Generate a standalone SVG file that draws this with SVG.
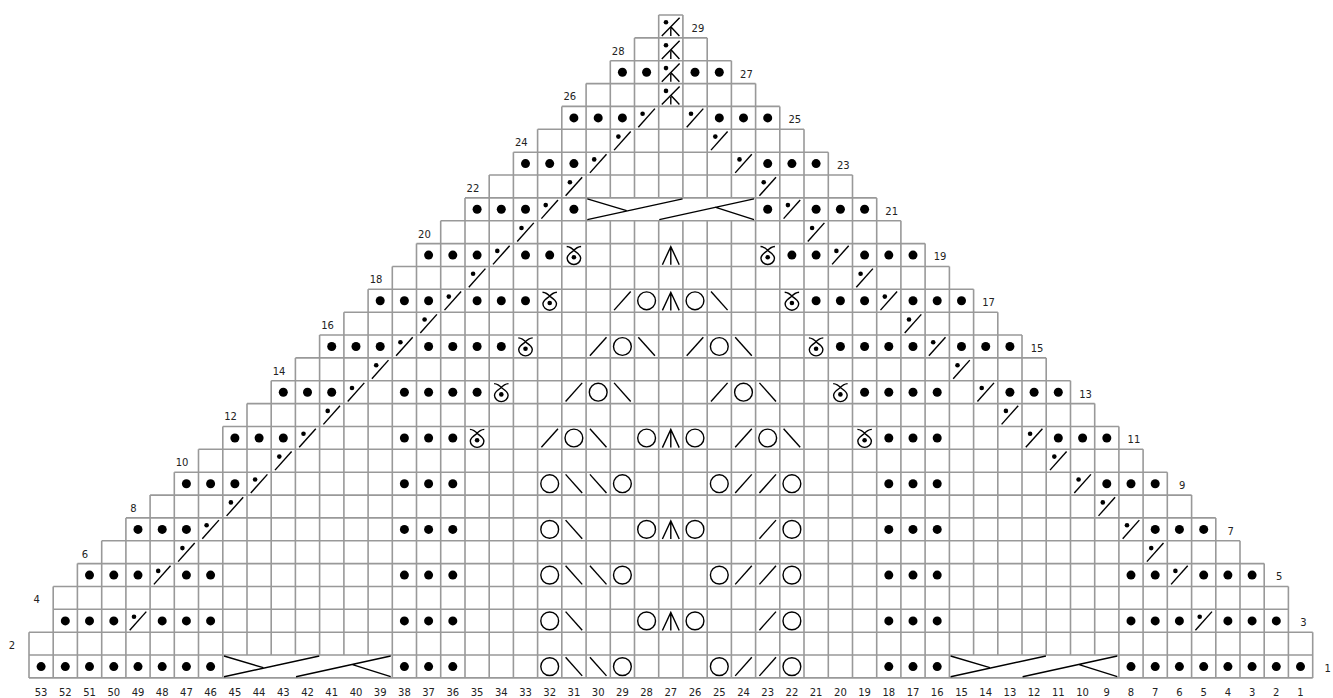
<svg xmlns="http://www.w3.org/2000/svg" width="1333" height="698" viewBox="0 0 1333 698">
<style>
.g{fill:none;stroke:#999;stroke-width:1.6}
.k{fill:none;stroke:#000;stroke-width:1.4}
.f{fill:#000}
text{font-family:"DejaVu Sans","Liberation Sans",sans-serif;font-size:10px;fill:#222;text-anchor:middle}
</style>
<defs>
<circle id="d" class="f" r="4.5"/>
<path id="s" class="k" d="M-8.3,9.3L8.3,-9.3"/>
<path id="b" class="k" d="M-8.3,-9.3L8.3,9.3"/>
<circle id="o" class="k" r="8.9"/>
<g id="ds"><path class="k" d="M-8.3,9.3L8.3,-9.3"/><circle class="f" cx="-4" cy="-4.2" r="2.3"/></g>
<path id="t" class="k" d="M-8.4,9.6L0,-8.5L8.4,9.6M0,-8.5V9.6"/>
<g id="y"><path class="k" d="M-7.2,-8.6C-4,-8.4-1.5,-6.6 0.6,-4.2C4.2,-1.8 6.8,0 6.8,3C6.8,6.5 3.5,9.4 0,9.4C-3.5,9.4-6.8,6.5-6.8,3C-6.8,0-4.2,-1.8-0.6,-4.2C1.5,-6.6 4,-8.4 7.2,-8.6"/><circle class="f" cy="2.2" r="2.3"/></g>
<g id="m"><path class="k" d="M-9,9.6L8.8,-8.6M0,1.9V9.6M0,0.3L8.6,9.6"/><circle class="f" cx="-4.8" cy="-4.1" r="2.3"/></g>
<path id="c" class="k" d="M1.2,1L40.5,12.7M1.2,21.7L96.5,1M73.2,21.7L167.9,1M128.9,9.3L167.9,21.7"/>
</defs>
<g id="grid">
<path class="g" d="M658.7,15H682.9M634.5,37.9H707.2M610.3,60.7H731.4M586.1,83.6H755.6M561.8,106.4H779.8M537.6,129.3H804M513.4,152.2H828.3M489.2,175H852.5M465,197.9H876.7M440.7,220.7H900.9M416.5,243.6H925.1M392.3,266.5H949.4M368.1,289.3H973.6M343.9,312.2H997.8M319.6,335H1022M295.4,357.9H1046.2M271.2,380.8H1070.5M247,403.6H1094.7M222.8,426.5H1118.9M198.5,449.3H1143.1M174.3,472.2H1167.3M150.1,495.1H1191.6M125.9,517.9H1215.8M101.7,540.8H1240M77.4,563.6H1264.2M53.2,586.5H1288.4M53.2,609.3H1288.4M29,632.2H1312.7M29,655H1312.7M29,677.9H1312.7"/>
<path class="g" d="M29,632.2V677.9M53.2,586.5V677.9M77.4,563.6V677.9M101.7,540.8V677.9M125.9,517.9V677.9M150.1,495.1V677.9M174.3,472.2V677.9M198.5,449.3V677.9M222.8,426.5V677.9M247,403.6V655M271.2,380.8V655M295.4,357.9V655M319.6,335V655M343.9,312.2V655M368.1,289.3V655M392.3,266.5V677.9M416.5,243.6V677.9M440.7,220.7V677.9M465,197.9V677.9M489.2,175V677.9M513.4,152.2V677.9M537.6,129.3V677.9M561.8,106.4V677.9M586.1,83.6V677.9M610.3,60.7V197.9M610.3,220.7V677.9M634.5,37.9V197.9M634.5,220.7V677.9M658.7,15V197.9M658.7,220.7V677.9M682.9,15V197.9M682.9,220.7V677.9M707.2,37.9V197.9M707.2,220.7V677.9M731.4,60.7V197.9M731.4,220.7V677.9M755.6,83.6V677.9M779.8,106.4V677.9M804,129.3V677.9M828.3,152.2V677.9M852.5,175V677.9M876.7,197.9V677.9M900.9,220.7V677.9M925.1,243.6V677.9M949.4,266.5V677.9M973.6,289.3V655M997.8,312.2V655M1022,335V655M1046.2,357.9V655M1070.5,380.8V655M1094.7,403.6V655M1118.9,426.5V677.9M1143.1,449.3V677.9M1167.3,472.2V677.9M1191.6,495.1V677.9M1215.8,517.9V677.9M1240,540.8V677.9M1264.2,563.6V677.9M1288.4,586.5V677.9M1312.7,632.2V677.9"/>
</g>
<g id="symbols">
<g id="row-1" transform="translate(0,666.6)">
<use href="#d" x="41.1"/><use href="#d" x="65.3"/><use href="#d" x="89.5"/><use href="#d" x="113.8"/><use href="#d" x="138"/><use href="#d" x="162.2"/><use href="#d" x="186.4"/><use href="#d" x="210.6"/>
<use href="#c" x="222.8" y="-11.6"/>
<use href="#d" x="404.4"/><use href="#d" x="428.6"/><use href="#d" x="452.8"/>
<use href="#o" x="549.7"/><use href="#b" x="573.9"/><use href="#b" x="598.2"/><use href="#o" x="622.4"/>
<use href="#o" x="719.3"/><use href="#s" x="743.5"/><use href="#s" x="767.7"/><use href="#o" x="791.9"/>
<use href="#d" x="888.8"/><use href="#d" x="913"/><use href="#d" x="937.2"/>
<use href="#c" x="949.4" y="-11.6"/>
<use href="#d" x="1131"/><use href="#d" x="1155.2"/><use href="#d" x="1179.4"/><use href="#d" x="1203.7"/><use href="#d" x="1227.9"/><use href="#d" x="1252.1"/><use href="#d" x="1276.3"/><use href="#d" x="1300.5"/>
</g>
<g id="row-3" transform="translate(0,620.9)">
<use href="#d" x="65.3"/><use href="#d" x="89.5"/><use href="#d" x="113.8"/><use href="#ds" x="138"/><use href="#d" x="162.2"/><use href="#d" x="186.4"/><use href="#d" x="210.6"/>
<use href="#d" x="404.4"/><use href="#d" x="428.6"/><use href="#d" x="452.8"/>
<use href="#o" x="549.7"/><use href="#b" x="573.9"/><use href="#o" x="646.6"/><use href="#t" x="670.8"/><use href="#o" x="695"/><use href="#s" x="767.7"/><use href="#o" x="791.9"/>
<use href="#d" x="888.8"/><use href="#d" x="913"/><use href="#d" x="937.2"/>
<use href="#d" x="1131"/><use href="#d" x="1155.2"/><use href="#d" x="1179.4"/><use href="#ds" x="1203.7"/><use href="#d" x="1227.9"/><use href="#d" x="1252.1"/><use href="#d" x="1276.3"/>
</g>
<g id="row-5" transform="translate(0,575.1)">
<use href="#d" x="89.5"/><use href="#d" x="113.8"/><use href="#d" x="138"/><use href="#ds" x="162.2"/><use href="#d" x="186.4"/><use href="#d" x="210.6"/>
<use href="#d" x="404.4"/><use href="#d" x="428.6"/><use href="#d" x="452.8"/>
<use href="#o" x="549.7"/><use href="#b" x="573.9"/><use href="#b" x="598.2"/><use href="#o" x="622.4"/>
<use href="#o" x="719.3"/><use href="#s" x="743.5"/><use href="#s" x="767.7"/><use href="#o" x="791.9"/>
<use href="#d" x="888.8"/><use href="#d" x="913"/><use href="#d" x="937.2"/>
<use href="#d" x="1131"/><use href="#d" x="1155.2"/><use href="#ds" x="1179.4"/><use href="#d" x="1203.7"/><use href="#d" x="1227.9"/><use href="#d" x="1252.1"/>
</g>
<g id="row-6" transform="translate(0,552.3)"><use href="#ds" x="186.4"/><use href="#ds" x="1155.2"/></g>
<g id="row-7" transform="translate(0,529.4)">
<use href="#d" x="138"/><use href="#d" x="162.2"/><use href="#d" x="186.4"/><use href="#ds" x="210.6"/>
<use href="#d" x="404.4"/><use href="#d" x="428.6"/><use href="#d" x="452.8"/>
<use href="#o" x="549.7"/><use href="#b" x="573.9"/><use href="#o" x="646.6"/><use href="#t" x="670.8"/><use href="#o" x="695"/><use href="#s" x="767.7"/><use href="#o" x="791.9"/>
<use href="#d" x="888.8"/><use href="#d" x="913"/><use href="#d" x="937.2"/>
<use href="#ds" x="1131"/><use href="#d" x="1155.2"/><use href="#d" x="1179.4"/><use href="#d" x="1203.7"/>
</g>
<g id="row-8" transform="translate(0,506.6)"><use href="#ds" x="234.9"/><use href="#ds" x="1106.8"/></g>
<g id="row-9" transform="translate(0,483.7)">
<use href="#d" x="186.4"/><use href="#d" x="210.6"/><use href="#d" x="234.9"/><use href="#ds" x="259.1"/>
<use href="#d" x="404.4"/><use href="#d" x="428.6"/><use href="#d" x="452.8"/>
<use href="#o" x="549.7"/><use href="#b" x="573.9"/><use href="#b" x="598.2"/><use href="#o" x="622.4"/>
<use href="#o" x="719.3"/><use href="#s" x="743.5"/><use href="#s" x="767.7"/><use href="#o" x="791.9"/>
<use href="#d" x="888.8"/><use href="#d" x="913"/><use href="#d" x="937.2"/>
<use href="#ds" x="1082.6"/><use href="#d" x="1106.8"/><use href="#d" x="1131"/><use href="#d" x="1155.2"/>
</g>
<g id="row-10" transform="translate(0,460.8)"><use href="#ds" x="283.3"/><use href="#ds" x="1058.3"/></g>
<g id="row-11" transform="translate(0,438)">
<use href="#d" x="234.9"/><use href="#d" x="259.1"/><use href="#d" x="283.3"/><use href="#ds" x="307.5"/>
<use href="#d" x="404.4"/><use href="#d" x="428.6"/><use href="#d" x="452.8"/><use href="#y" x="477.1"/>
<use href="#s" x="549.7"/><use href="#o" x="573.9"/><use href="#b" x="598.2"/>
<use href="#o" x="646.6"/><use href="#t" x="670.8"/><use href="#o" x="695"/>
<use href="#s" x="743.5"/><use href="#o" x="767.7"/><use href="#b" x="791.9"/>
<use href="#y" x="864.6"/><use href="#d" x="888.8"/><use href="#d" x="913"/><use href="#d" x="937.2"/>
<use href="#ds" x="1034.1"/><use href="#d" x="1058.3"/><use href="#d" x="1082.6"/><use href="#d" x="1106.8"/>
</g>
<g id="row-12" transform="translate(0,415.1)"><use href="#ds" x="331.7"/><use href="#ds" x="1009.9"/></g>
<g id="row-13" transform="translate(0,392.2)">
<use href="#d" x="283.3"/><use href="#d" x="307.5"/><use href="#d" x="331.7"/><use href="#ds" x="356"/>
<use href="#d" x="404.4"/><use href="#d" x="428.6"/><use href="#d" x="452.8"/><use href="#d" x="477.1"/><use href="#y" x="501.3"/>
<use href="#s" x="573.9"/><use href="#o" x="598.2"/><use href="#b" x="622.4"/>
<use href="#s" x="719.3"/><use href="#o" x="743.5"/><use href="#b" x="767.7"/>
<use href="#y" x="840.4"/><use href="#d" x="864.6"/><use href="#d" x="888.8"/><use href="#d" x="913"/><use href="#d" x="937.2"/>
<use href="#ds" x="985.7"/><use href="#d" x="1009.9"/><use href="#d" x="1034.1"/><use href="#d" x="1058.3"/>
</g>
<g id="row-14" transform="translate(0,369.4)"><use href="#ds" x="380.2"/><use href="#ds" x="961.5"/></g>
<g id="row-15" transform="translate(0,346.5)">
<use href="#d" x="331.7"/><use href="#d" x="356"/><use href="#d" x="380.2"/><use href="#ds" x="404.4"/>
<use href="#d" x="428.6"/><use href="#d" x="452.8"/><use href="#d" x="477.1"/><use href="#d" x="501.3"/><use href="#y" x="525.5"/>
<use href="#s" x="598.2"/><use href="#o" x="622.4"/><use href="#b" x="646.6"/>
<use href="#s" x="695"/><use href="#o" x="719.3"/><use href="#b" x="743.5"/>
<use href="#y" x="816.1"/><use href="#d" x="840.4"/><use href="#d" x="864.6"/><use href="#d" x="888.8"/><use href="#d" x="913"/>
<use href="#ds" x="937.2"/><use href="#d" x="961.5"/><use href="#d" x="985.7"/><use href="#d" x="1009.9"/>
</g>
<g id="row-16" transform="translate(0,323.7)"><use href="#ds" x="428.6"/><use href="#ds" x="913"/></g>
<g id="row-17" transform="translate(0,300.8)">
<use href="#d" x="380.2"/><use href="#d" x="404.4"/><use href="#d" x="428.6"/><use href="#ds" x="452.8"/>
<use href="#d" x="477.1"/><use href="#d" x="501.3"/><use href="#d" x="525.5"/><use href="#y" x="549.7"/>
<use href="#s" x="622.4"/><use href="#o" x="646.6"/><use href="#t" x="670.8"/><use href="#o" x="695"/><use href="#b" x="719.3"/>
<use href="#y" x="791.9"/><use href="#d" x="816.1"/><use href="#d" x="840.4"/><use href="#d" x="864.6"/>
<use href="#ds" x="888.8"/><use href="#d" x="913"/><use href="#d" x="937.2"/><use href="#d" x="961.5"/>
</g>
<g id="row-18" transform="translate(0,277.9)"><use href="#ds" x="477.1"/><use href="#ds" x="864.6"/></g>
<g id="row-19" transform="translate(0,255.1)">
<use href="#d" x="428.6"/><use href="#d" x="452.8"/><use href="#d" x="477.1"/><use href="#ds" x="501.3"/>
<use href="#d" x="525.5"/><use href="#d" x="549.7"/><use href="#y" x="573.9"/>
<use href="#t" x="670.8"/>
<use href="#y" x="767.7"/><use href="#d" x="791.9"/><use href="#d" x="816.1"/>
<use href="#ds" x="840.4"/><use href="#d" x="864.6"/><use href="#d" x="888.8"/><use href="#d" x="913"/>
</g>
<g id="row-20" transform="translate(0,232.2)"><use href="#ds" x="525.5"/><use href="#ds" x="816.1"/></g>
<g id="row-21" transform="translate(0,209.3)">
<use href="#d" x="477.1"/><use href="#d" x="501.3"/><use href="#d" x="525.5"/><use href="#ds" x="549.7"/><use href="#d" x="573.9"/>
<use href="#c" x="586.1" y="-11.4"/>
<use href="#d" x="767.7"/><use href="#ds" x="791.9"/><use href="#d" x="816.1"/><use href="#d" x="840.4"/><use href="#d" x="864.6"/>
</g>
<g id="row-22" transform="translate(0,186.5)"><use href="#ds" x="573.9"/><use href="#ds" x="767.7"/></g>
<g id="row-23" transform="translate(0,163.6)">
<use href="#d" x="525.5"/><use href="#d" x="549.7"/><use href="#d" x="573.9"/><use href="#ds" x="598.2"/>
<use href="#ds" x="743.5"/><use href="#d" x="767.7"/><use href="#d" x="791.9"/><use href="#d" x="816.1"/>
</g>
<g id="row-24" transform="translate(0,140.8)"><use href="#ds" x="622.4"/><use href="#ds" x="719.3"/></g>
<g id="row-25" transform="translate(0,117.9)">
<use href="#d" x="573.9"/><use href="#d" x="598.2"/><use href="#d" x="622.4"/><use href="#ds" x="646.6"/>
<use href="#ds" x="695"/><use href="#d" x="719.3"/><use href="#d" x="743.5"/><use href="#d" x="767.7"/>
</g>
<g id="row-26" transform="translate(0,95)"><use href="#m" x="670.8"/></g>
<g id="row-27" transform="translate(0,72.2)"><use href="#d" x="622.4"/><use href="#d" x="646.6"/><use href="#m" x="670.8"/><use href="#d" x="695"/><use href="#d" x="719.3"/></g>
<g id="row-28" transform="translate(0,49.3)"><use href="#m" x="670.8"/></g>
<g id="row-29" transform="translate(0,26.4)"><use href="#m" x="670.8"/></g>
</g>
<g id="row-labels">
<text x="1327.7" y="671.9">1</text>
<text x="12" y="649">2</text>
<text x="1303.4" y="626.2">3</text>
<text x="36.7" y="603.3">4</text>
<text x="1279.2" y="580.4">5</text>
<text x="85" y="557.6">6</text>
<text x="1230.8" y="534.7">7</text>
<text x="133.5" y="511.9">8</text>
<text x="1182.3" y="489">9</text>
<text x="182" y="466.1">10</text>
<text x="1133.9" y="443.3">11</text>
<text x="230.5" y="420.4">12</text>
<text x="1085.5" y="397.5">13</text>
<text x="279" y="374.7">14</text>
<text x="1037" y="351.8">15</text>
<text x="327.5" y="329">16</text>
<text x="988.6" y="306.1">17</text>
<text x="376" y="283.2">18</text>
<text x="940.1" y="260.4">19</text>
<text x="424.4" y="237.5">20</text>
<text x="891.7" y="214.6">21</text>
<text x="472.9" y="191.8">22</text>
<text x="843.3" y="168.9">23</text>
<text x="521.3" y="146.1">24</text>
<text x="794.8" y="123.2">25</text>
<text x="569.8" y="100.3">26</text>
<text x="746.4" y="77.5">27</text>
<text x="618.2" y="54.6">28</text>
<text x="697.9" y="31.7">29</text>
</g>
<g id="column-labels">
<text x="41.1" y="695.5">53</text><text x="65.3" y="695.5">52</text><text x="89.5" y="695.5">51</text><text x="113.8" y="695.5">50</text><text x="138" y="695.5">49</text><text x="162.2" y="695.5">48</text><text x="186.4" y="695.5">47</text><text x="210.6" y="695.5">46</text><text x="234.9" y="695.5">45</text><text x="259.1" y="695.5">44</text><text x="283.3" y="695.5">43</text><text x="307.5" y="695.5">42</text><text x="331.7" y="695.5">41</text><text x="356" y="695.5">40</text><text x="380.2" y="695.5">39</text><text x="404.4" y="695.5">38</text><text x="428.6" y="695.5">37</text><text x="452.8" y="695.5">36</text><text x="477.1" y="695.5">35</text><text x="501.3" y="695.5">34</text><text x="525.5" y="695.5">33</text><text x="549.7" y="695.5">32</text><text x="573.9" y="695.5">31</text><text x="598.2" y="695.5">30</text><text x="622.4" y="695.5">29</text><text x="646.6" y="695.5">28</text><text x="670.8" y="695.5">27</text><text x="695" y="695.5">26</text><text x="719.3" y="695.5">25</text><text x="743.5" y="695.5">24</text><text x="767.7" y="695.5">23</text><text x="791.9" y="695.5">22</text><text x="816.1" y="695.5">21</text><text x="840.4" y="695.5">20</text><text x="864.6" y="695.5">19</text><text x="888.8" y="695.5">18</text><text x="913" y="695.5">17</text><text x="937.2" y="695.5">16</text><text x="961.5" y="695.5">15</text><text x="985.7" y="695.5">14</text><text x="1009.9" y="695.5">13</text><text x="1034.1" y="695.5">12</text><text x="1058.3" y="695.5">11</text><text x="1082.6" y="695.5">10</text><text x="1106.8" y="695.5">9</text><text x="1131" y="695.5">8</text><text x="1155.2" y="695.5">7</text><text x="1179.4" y="695.5">6</text><text x="1203.7" y="695.5">5</text><text x="1227.9" y="695.5">4</text><text x="1252.1" y="695.5">3</text><text x="1276.3" y="695.5">2</text><text x="1300.5" y="695.5">1</text>
</g>
</svg>
